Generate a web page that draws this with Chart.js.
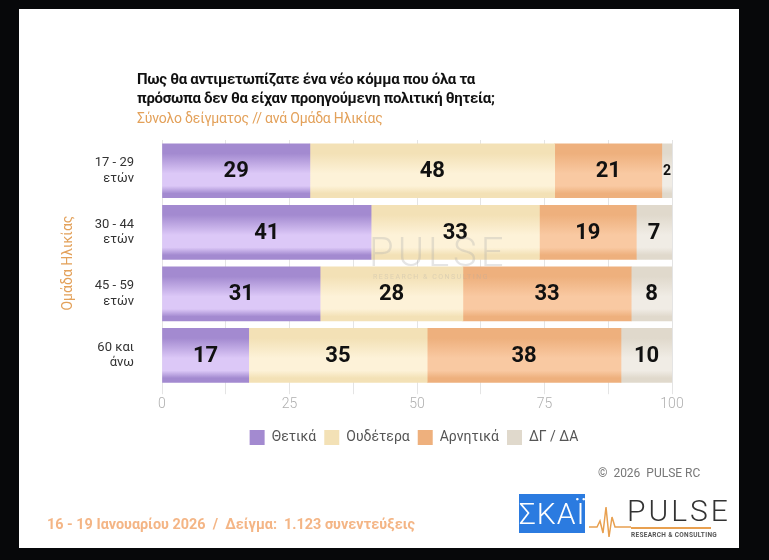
<!DOCTYPE html>
<html>
<head>
<meta charset="utf-8">
<script src="https://cdn.jsdelivr.net/npm/chart.js@4.4.1/dist/chart.umd.min.js"></script>
<style>
  html, body { margin: 0; padding: 0; background: #07080a; }
  body { width: 769px; height: 560px; position: relative; overflow: hidden; font-family: Roboto, "Noto Sans", sans-serif; }
  #panel { position: absolute; left: 19px; top: 9px; width: 720px; height: 539px; background: #fff; }
  #chartBox { position: absolute; left: 0; top: 0; width: 720px; height: 539px; }
  .title { position: absolute; left: 118px; top: 61px; font-size: 15px; line-height: 19px; font-weight: bold; color: #111; letter-spacing: -0.3px; }
  .sub { position: absolute; left: 118px; top: 101px; font-size: 14px; color: #e3a15a; letter-spacing: -0.2px; }
  .copy { position: absolute; left: 579px; top: 457px; font-size: 12px; color: #777; }
  .fecha { position: absolute; left: 28px; top: 507px; font-size: 14.4px; font-weight: bold; color: #f4b585; letter-spacing: 0; }
  .skai { position: absolute; left: 500px; top: 485px; width: 66px; height: 39px; background: #2b7be0; color: #fff; font-size: 30px; font-weight: 300; line-height: 39px; text-align: center; letter-spacing: 1px; }
  .pulse { position: absolute; left: 568px; top: 484px; width: 140px; height: 46px; }
  .pulse .word { position: absolute; left: 40px; top: 0; font-size: 30px; font-weight: 300; color: #333; letter-spacing: 3px; }
  .pulse .bar { position: absolute; left: 44px; top: 34px; width: 80px; height: 2px; background: #e8a050; }
  .pulse .rc { position: absolute; left: 44px; top: 38px; font-size: 6.5px; font-weight: bold; color: #555; letter-spacing: 0.3px; }
  .wm { position: absolute; left: 350px; top: 220px; pointer-events: none; color: rgba(170,170,170,0.3); }
  .wm .w1 { font-size: 40px; font-weight: 300; letter-spacing: 4px; }
  .wm .w2 { font-size: 7px; letter-spacing: 1.5px; margin-top: -3px; margin-left: 4px; }
</style>
</head>
<body>
<div id="panel">
  <div id="chartBox"><canvas id="grafico" width="720" height="539"></canvas></div>
  <div class="title">Πως θα αντιμετωπίζατε ένα νέο κόμμα που όλα τα<br>πρόσωπα δεν θα είχαν προηγούμενη πολιτική θητεία;</div>
  <div class="sub">Σύνολο δείγματος // ανά Ομάδα Ηλικίας</div>
  <div class="wm"><div class="w1">PULSE</div><div class="w2">RESEARCH &amp; CONSULTING</div></div>
  <div class="copy">©&nbsp; 2026&nbsp; PULSE RC</div>
  <div class="fecha">16 - 19 Ιανουαρίου 2026&nbsp; /&nbsp; Δείγμα:&nbsp; 1.123 συνεντεύξεις</div>
  <div class="skai">ΣΚΑΪ</div>
  <div class="pulse">
    <svg width="44" height="46" style="position:absolute;left:0;top:0">
      <polyline points="2,34 10,34 13,28 16,40 19,14 22,44 25,24 28,34 44,34" fill="none" stroke="#e8a050" stroke-width="1.5"/>
    </svg>
    <div class="word">PULSE</div>
    <div class="bar"></div>
    <div class="rc">RESEARCH &amp; CONSULTING</div>
  </div>
</div>

<script>
// dados
const categorias = [['17 - 29', 'ετών'], ['30 - 44', 'ετών'], ['45 - 59', 'ετών'], ['60 και', 'άνω']];
const seriesNomes = ['Θετικά', 'Ουδέτερα', 'Αρνητικά', 'ΔΓ / ΔΑ'];
const thetika = [29, 41, 31, 17];
const oudetera = [48, 33, 28, 35];
const arnitika = [21, 19, 33, 38];
const dgda = [2, 7, 8, 10];
const tickLabels = [0, 25, 50, 75, 100];

// cores: [borda, meio, solido]
const cores = [
  ['#a38ad0', '#dcc8f7', '#b9a2e2'],
  ['#f3e1b6', '#fdf2d8', '#f7e8c4'],
  ['#eeb07d', '#f9c9a2', '#f2bb8f'],
  ['#e0d9cc', '#f0ece5', '#e8e2d8']
];

const espessura = 54;

function gradiente(idx) {
  return function (ctx) {
    const c = cores[idx];
    if (ctx.type !== 'data') return c[2];
    const chart = ctx.chart;
    const y = chart.scales.y;
    if (!y || !chart.chartArea) return c[2];
    const cy = y.getPixelForValue(ctx.dataIndex);
    const top = cy - espessura / 2;
    const g = chart.ctx.createLinearGradient(0, top, 0, top + espessura);
    g.addColorStop(0, c[0]);
    g.addColorStop(0.18, c[0]);
    g.addColorStop(0.55, c[1]);
    g.addColorStop(0.78, c[1]);
    g.addColorStop(0.92, c[0]);
    g.addColorStop(1, c[0]);
    return g;
  };
}

const rotulos = {
  id: 'rotulos',
  afterDatasetsDraw(chart) {
    const ctx = chart.ctx;
    ctx.save();
    ctx.fillStyle = '#111';
    ctx.textAlign = 'center';
    ctx.textBaseline = 'middle';
    chart.data.datasets.forEach((ds, i) => {
      chart.getDatasetMeta(i).data.forEach((el, j) => {
        const v = ds.data[j];
        const size = v < 5 ? 14 : 22;
        ctx.font = 'bold ' + size + 'px Roboto, sans-serif';
        ctx.fillText(String(v), (el.x + el.base) / 2, el.y + 1);
      });
    });
    ctx.restore();
  }
};

// empurra a legenda para a direita
const moveLegenda = {
  id: 'moveLegenda',
  afterLayout(chart) {
    chart.legend.left += 50;
    chart.legend.right += 50;
  }
};

const valores = [thetika, oudetera, arnitika, dgda];

new Chart(document.getElementById('grafico').getContext('2d'), {
  type: 'bar',
  data: {
    labels: categorias,
    datasets: seriesNomes.map((nome, i) => ({
      label: nome,
      data: valores[i],
      backgroundColor: gradiente(i),
      borderWidth: 0,
      barThickness: espessura
    }))
  },
  options: {
    indexAxis: 'y',
    responsive: false,
    animation: false,
    layout: { padding: { left: 37, top: 131, right: 67, bottom: 93 } },
    scales: {
      x: {
        stacked: true,
        min: 0,
        max: 100,
        border: { display: false },
        grid: { color: '#e4e4e4', tickLength: 8 },
        ticks: {
          stepSize: 12.5,
          color: '#b0b0b0',
          font: { family: 'Roboto', size: 14, weight: 300 },
          padding: 2,
          callback: (v) => tickLabels.includes(v) ? v : ''
        },
        afterFit: (s) => { s.height += 7; }
      },
      y: {
        stacked: true,
        border: { display: false },
        grid: { display: false, drawTicks: false },
        ticks: { color: '#333', font: { family: 'Roboto', size: 13 }, padding: 28 },
        title: {
          display: true,
          text: 'Ομάδα Ηλικίας',
          color: '#e3a15a',
          font: { family: 'Roboto', size: 14 }
        },
        afterFit: (s) => { s.width = 106; }
      }
    },
    plugins: {
      legend: {
        position: 'bottom',
        labels: {
          boxWidth: 15,
          boxHeight: 15,
          padding: 8,
          color: '#555',
          font: { family: 'Roboto', size: 14 }
        }
      },
      tooltip: { enabled: false }
    }
  },
  plugins: [rotulos, moveLegenda]
});
</script>
</body>
</html>
